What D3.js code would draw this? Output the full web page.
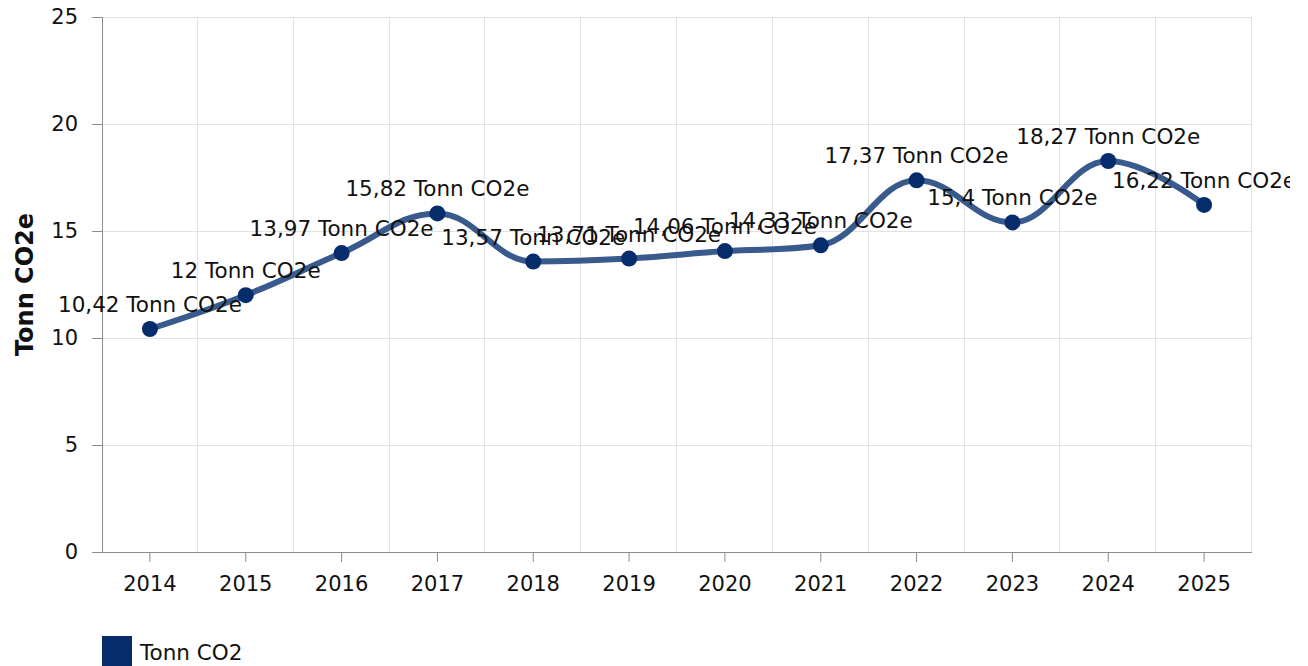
<!DOCTYPE html>
<html>
<head>
<meta charset="utf-8">
<script src="https://cdn.jsdelivr.net/npm/d3@7"></script>
<style>
	body { margin: 0; background: #fff; }
	svg { display: block; font-family: "DejaVu Sans", Verdana, sans-serif; }
</style>
</head>
<body>
<svg id="svg" width="1308" height="666"></svg>
<script>
let years = ["2014", "2015", "2016", "2017", "2018", "2019", "2020", "2021", "2022", "2023", "2024", "2025"];
let values = [10.42, 12, 13.97, 15.82, 13.57, 13.71, 14.06, 14.33, 17.37, 15.4, 18.27, 16.22];
let yTicks = [0, 5, 10, 15, 20, 25];
let unit = "Tonn CO2e";
let seriesName = "Tonn CO2";

let data = years.map(function(y, i) { return {year: y, value: values[i]}; });

let svg = d3.select("#svg");
let padding = {top: 17, right: 56, bottom: 114, left: 102};
let chartArea = {
	"width": 1308 - padding.left - padding.right,
	"height": 666 - padding.top - padding.bottom
};

let pointColor = "#062c6b";
let lineColor = "#395a8d";
let gridColor = "#e3e3e3";
let axisColor = "#8c8c8c";
let fontSize = 21;

let xScale = d3.scaleBand()
		.domain(years)
		.range([0, chartArea.width])
		.padding(0);

let yScale = d3.scaleLinear()
		.domain([0, 25])
		.range([chartArea.height, 0]);

// clip at the right edge like the original
svg.append("defs").append("clipPath").attr("id", "clip")
		.append("rect").attr("x", 0).attr("y", 0).attr("width", 1290).attr("height", 666);

let root = svg.append("g").attr("clip-path", "url(#clip)");

let plot = root.append("g")
		.attr("transform", "translate(" + padding.left + "," + padding.top + ")");

// horizontal grid
plot.append("g")
	.selectAll("line").data(yTicks).enter()
	.append("line")
	.attr("x1", 0).attr("x2", chartArea.width)
	.attr("y1", function(d) { return yScale(d) + 0.5; })
	.attr("y2", function(d) { return yScale(d) + 0.5; })
	.attr("stroke", gridColor);

// vertical grid at band edges
let edges = years.slice(1).map(function(y) { return xScale(y); }).concat([chartArea.width]);
plot.append("g")
	.selectAll("line").data(edges).enter()
	.append("line")
	.attr("x1", function(d) { return Math.round(d) - 0.5; })
	.attr("x2", function(d) { return Math.round(d) - 0.5; })
	.attr("y1", 0).attr("y2", chartArea.height)
	.attr("stroke", gridColor);

// y axis
let yAxis = plot.append("g")
		.call(d3.axisLeft(yScale).tickValues(yTicks).tickSize(10).tickPadding(14).tickFormat(d3.format("d")));
yAxis.attr("font-family", null).attr("font-size", fontSize);
yAxis.select(".domain").attr("stroke", axisColor).attr("d", "M0.5,0V" + chartArea.height);
yAxis.selectAll(".tick line").attr("stroke", axisColor);
yAxis.selectAll("text").attr("fill", "#111");

// x axis
let xAxis = plot.append("g")
		.attr("transform", "translate(0," + chartArea.height + ")")
		.call(d3.axisBottom(xScale).tickSize(10).tickPadding(14));
xAxis.attr("font-family", null).attr("font-size", fontSize);
xAxis.select(".domain").attr("stroke", axisColor).attr("d", "M0,0.5H" + chartArea.width);
xAxis.selectAll(".tick line").attr("stroke", axisColor);
xAxis.selectAll("text").attr("fill", "#111");

// y axis title
root.append("text")
	.attr("transform", "translate(33," + (padding.top + chartArea.height / 2) + ") rotate(-90)")
	.attr("text-anchor", "middle")
	.attr("font-size", 24)
	.attr("font-weight", "bold")
	.attr("fill", "#111")
	.text(unit);

let cx = function(d) { return xScale(d.year) + xScale.bandwidth() / 2; };
let cy = function(d) { return yScale(d.value); };

// spline path in the style of the original chart tool (smoothing 1.5)
function splinePath(pts) {
	let smoothing = 1.5, denom = smoothing + 1;
	let conts = pts.map(function(p, i) {
		let prev = pts[i - 1], next = pts[i + 1];
		if (!prev || !next) return {lx: p.x, ly: p.y, rx: p.x, ry: p.y};
		let lx = (smoothing * p.x + prev.x) / denom, ly = (smoothing * p.y + prev.y) / denom;
		let rx = (smoothing * p.x + next.x) / denom, ry = (smoothing * p.y + next.y) / denom;
		let correction = ((ry - ly) * (rx - p.x)) / (rx - lx) + p.y - ry;
		ly += correction;
		ry += correction;
		if (ly > prev.y && ly > p.y) { ly = Math.max(prev.y, p.y); ry = 2 * p.y - ly; }
		else if (ly < prev.y && ly < p.y) { ly = Math.min(prev.y, p.y); ry = 2 * p.y - ly; }
		if (ry > next.y && ry > p.y) { ry = Math.max(next.y, p.y); ly = 2 * p.y - ry; }
		else if (ry < next.y && ry < p.y) { ry = Math.min(next.y, p.y); ly = 2 * p.y - ry; }
		return {lx: lx, ly: ly, rx: rx, ry: ry};
	});
	let path = d3.path();
	pts.forEach(function(p, i) {
		if (i === 0) { path.moveTo(p.x, p.y); return; }
		path.bezierCurveTo(conts[i - 1].rx, conts[i - 1].ry, conts[i].lx, conts[i].ly, p.x, p.y);
	});
	return path.toString();
}

let pts = data.map(function(d) { return {x: cx(d), y: cy(d)}; });

plot.append("path")
	.attr("d", splinePath(pts))
	.attr("fill", "none")
	.attr("stroke", lineColor)
	.attr("stroke-width", 6)
	.attr("stroke-linecap", "round");

// markers
plot.selectAll("circle").data(data).enter()
	.append("circle")
	.attr("cx", cx)
	.attr("cy", cy)
	.attr("r", 8)
	.attr("fill", pointColor);

// data labels
plot.selectAll("text.value-label").data(data).enter()
	.append("text")
	.classed("value-label", true)
	.attr("x", cx)
	.attr("y", function(d) { return cy(d) - 17; })
	.attr("text-anchor", "middle")
	.attr("font-size", 21.5)
	.attr("fill", "#111")
	.text(function(d) { return String(d.value).replace(".", ",") + " " + unit; });

// legend
let legend = root.append("g").attr("transform", "translate(102,636)");
legend.append("rect")
	.attr("width", 30).attr("height", 30)
	.attr("fill", pointColor);
legend.append("text")
	.attr("x", 38).attr("y", 24)
	.attr("font-size", 21.5)
	.attr("fill", "#111")
	.text(seriesName);
</script>
</body>
</html>
